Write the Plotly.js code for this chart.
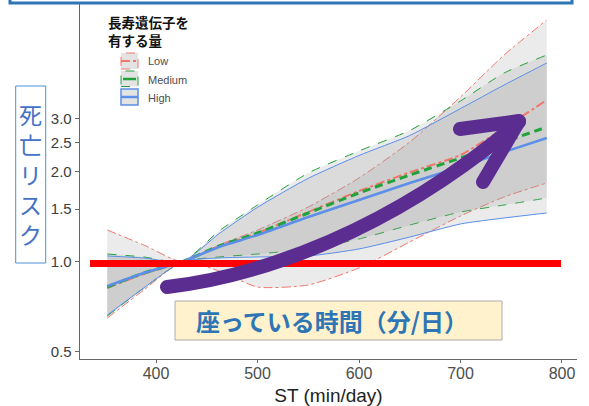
<!DOCTYPE html>
<html>
<head>
<meta charset="utf-8">
<script src="https://cdn.plot.ly/plotly-3.0.1.min.js"></script>
<style>
html,body{margin:0;padding:0;background:#fff;}
#chart{width:589px;height:406px;}
</style>
</head>
<body>
<div id="chart"></div>
<script>
// ---- data ----
const stMinutes = [352, 388, 426, 462, 500, 550, 600, 650, 700, 743, 785];

const lowCenter  = [0.817, 0.910, 1.0, 1.128, 1.247, 1.466, 1.723, 1.990, 2.274, 2.799, 3.472];
const lowUpper   = [1.276, 1.137, 1.0, 1.137, 1.276, 1.524, 1.905, 2.513, 3.554, 4.910, 6.428];
const lowLower   = [0.648, 0.804, 1.0, 0.931, 0.823, 0.836, 0.953, 1.164, 1.422, 1.646, 1.833];

const medCenter  = [0.823, 0.917, 1.0, 1.128, 1.247, 1.455, 1.697, 1.949, 2.222, 2.513, 2.820];
const medUpper   = [1.061, 1.037, 1.0, 1.266, 1.547, 1.979, 2.345, 2.746, 3.446, 4.274, 4.910];
const medLower   = [0.658, 0.817, 1.0, 1.037, 1.061, 1.103, 1.191, 1.326, 1.466, 1.547, 1.633];

const highCenter = [0.829, 0.917, 1.0, 1.120, 1.228, 1.411, 1.608, 1.833, 2.073, 2.327, 2.592];
const highUpper  = [1.045, 1.029, 1.0, 1.240, 1.520, 1.900, 2.265, 2.642, 3.250, 3.897, 4.617];
const highLower  = [0.663, 0.817, 1.0, 1.029, 1.037, 1.045, 1.103, 1.209, 1.337, 1.400, 1.455];

const groupNames = ["Low", "Medium", "High"];
const yTickVals = [0.5, 1.0, 1.5, 2.0, 2.5, 3.0];
const yTickText = ["0.5", "1.0", "1.5", "2.0", "2.5", "3.0"];
const xTickVals = [400, 500, 600, 700, 800];

// ---- styles ----
const RED = "#F2776B", GREEN = "#1FA33A", BLUE = "#5B8FE8";
const BAND = "rgba(153,153,153,0.2)";
const PURPLE = "#5C2D91";

function bound(y, color, dash, fill) {
  return {
    x: stMinutes, y: y, type: "scatter", mode: "lines",
    line: {color: color, width: 1, dash: dash, shape: "spline", smoothing: 0.6},
    fill: fill ? "tonexty" : "none", fillcolor: BAND,
    hoverinfo: "skip", showlegend: false
  };
}
function center(y, color, dash, width) {
  return {
    x: stMinutes, y: y, type: "scatter", mode: "lines",
    line: {color: color, width: width, dash: dash, shape: "spline", smoothing: 0.6},
    hoverinfo: "skip", showlegend: false
  };
}

const traces = [
  bound(lowLower, RED, "dashdot", false),
  bound(lowUpper, RED, "dashdot", true),
  bound(medLower, GREEN, "dash", false),
  bound(medUpper, GREEN, "dash", true),
  bound(highLower, BLUE, "solid", false),
  bound(highUpper, BLUE, "solid", true),
  center(lowCenter, RED, "dashdot", 2),
  center(medCenter, GREEN, "8px,5px", 3),
  center(highCenter, BLUE, "solid", 2.5)
];

// paper-coordinate helpers (plot area: x 80..577 px, y 0..359 px)
const PX = px => (px - 80) / 497;
const PY = py => (359 - py) / 359;

const shapes = [
  {type: "rect", xref: "paper", yref: "paper", x0: PX(10), x1: PX(572), y0: PY(3), y1: PY(-12),
   line: {color: "#2E75B6", width: 3}, fillcolor: "#ffffff"},
  {type: "rect", xref: "paper", yref: "paper", x0: PX(15.7), x1: PX(45.7), y0: PY(263), y1: PY(86),
   line: {color: "#4A90D9", width: 1}, fillcolor: "rgba(0,0,0,0)"},
  {type: "line", xref: "paper", yref: "paper", x0: PX(90), x1: PX(561), y0: PY(263.5), y1: PY(263.5),
   line: {color: "#FF0000", width: 7}},
  {type: "path", xref: "paper", yref: "paper",
   path: "M " + PX(167) + " " + PY(287) + " C " + PX(260) + " " + PY(276) + " " + PX(390) + " " + PY(232) + " " + PX(519) + " " + PY(122),
   line: {color: PURPLE, width: 14}},
  {type: "path", xref: "paper", yref: "paper",
   path: "M " + PX(460) + " " + PY(129) + " L " + PX(519) + " " + PY(121) + " L " + PX(483) + " " + PY(182),
   line: {color: PURPLE, width: 14}},
  {type: "rect", xref: "paper", yref: "paper", x0: PX(175), x1: PX(502), y0: PY(340), y1: PY(301),
   line: {color: "#AFABAB", width: 1}, fillcolor: "#FFF2CC"},
  {type: "rect", xref: "paper", yref: "paper", x0: PX(121), x1: PX(138), y0: PY(69), y1: PY(53),
   line: {color: RED, width: 1, dash: "dash"}, fillcolor: "#E3E3E3"},
  {type: "line", xref: "paper", yref: "paper", x0: PX(121), x1: PX(138), y0: PY(61), y1: PY(61),
   line: {color: RED, width: 2, dash: "dashdot"}},
  {type: "rect", xref: "paper", yref: "paper", x0: PX(121), x1: PX(138), y0: PY(86.5), y1: PY(71),
   line: {color: GREEN, width: 1, dash: "dash"}, fillcolor: "#E3E3E3"},
  {type: "line", xref: "paper", yref: "paper", x0: PX(123), x1: PX(136), y0: PY(79), y1: PY(79),
   line: {color: GREEN, width: 2.5}},
  {type: "rect", xref: "paper", yref: "paper", x0: PX(121), x1: PX(138), y0: PY(105), y1: PY(89),
   line: {color: BLUE, width: 1.5}, fillcolor: "#E3E3E3"},
  {type: "line", xref: "paper", yref: "paper", x0: PX(121), x1: PX(138), y0: PY(97), y1: PY(97),
   line: {color: BLUE, width: 2.5}}
];

const CJK = "Noto Sans CJK JP, sans-serif";
const SANS = "Liberation Sans, Arial, sans-serif";
const annotations = [
  {xref: "paper", yref: "paper", x: PX(106), y: PY(30.5), xanchor: "left", yanchor: "middle", align: "left",
   text: "<b>長寿遺伝子を<br>有する量</b>", showarrow: false, font: {family: CJK, size: 13.5, color: "#111"}},
  {xref: "paper", yref: "paper", x: PX(146), y: PY(61.5), xanchor: "left", yanchor: "middle",
   text: groupNames[0], showarrow: false, font: {family: SANS, size: 11, color: "#4D4D4D"}},
  {xref: "paper", yref: "paper", x: PX(146), y: PY(80), xanchor: "left", yanchor: "middle",
   text: groupNames[1], showarrow: false, font: {family: SANS, size: 11, color: "#4D4D4D"}},
  {xref: "paper", yref: "paper", x: PX(146), y: PY(98.3), xanchor: "left", yanchor: "middle",
   text: groupNames[2], showarrow: false, font: {family: SANS, size: 11, color: "#4D4D4D"}},
  {xref: "paper", yref: "paper", x: PX(30.7), y: PY(174), xanchor: "center", yanchor: "middle",
   text: "死<br>亡<br>リ<br>ス<br>ク", showarrow: false, font: {family: CJK, size: 23, color: "#4472C4"}},
  {xref: "paper", yref: "paper", x: PX(331.5), y: PY(320.5), xanchor: "center", yanchor: "middle",
   text: "<b>座っている時間（分/日）</b>", showarrow: false, font: {family: CJK, size: 24, color: "#2E75B6"}}
];

const layout = {
  width: 589, height: 406,
  margin: {l: 80, r: 12, t: 0, b: 47},
  paper_bgcolor: "#ffffff", plot_bgcolor: "#ffffff",
  showlegend: false,
  xaxis: {
    range: [325.1, 814.8], tickvals: xTickVals, showgrid: false, zeroline: false,
    showline: true, linecolor: "#666", linewidth: 1.3, ticks: "outside", ticklen: 3, tickcolor: "#666",
    ticklabelstandoff: -4,
    tickfont: {family: SANS, size: 16, color: "#4D4D4D"},
    title: {text: "ST (min/day)", standoff: 8, font: {family: SANS, size: 19, color: "#222"}},
    fixedrange: true
  },
  yaxis: {
    type: "log", range: [-0.32531, 0.87494], tickvals: yTickVals, ticktext: yTickText,
    showgrid: false, zeroline: false, showline: true, linecolor: "#666", linewidth: 1.3,
    ticks: "outside", ticklen: 4, tickcolor: "#666",
    tickfont: {family: SANS, size: 15, color: "#3D3D3D"},
    fixedrange: true
  },
  shapes: shapes,
  annotations: annotations
};

Plotly.newPlot("chart", traces, layout, {displayModeBar: false, staticPlot: true}).then(function () {
  document.querySelectorAll(".shapelayer path").forEach(function (p) {
    if ((p.style.stroke || "").indexOf("92, 45, 145") >= 0) {
      p.style.strokeLinecap = "round";
      p.style.strokeLinejoin = "round";
    }
  });
});
</script>
</body>
</html>
